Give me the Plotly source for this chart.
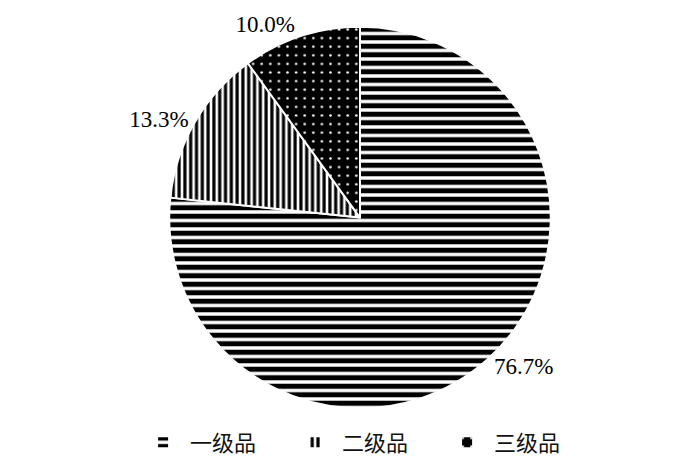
import plotly.graph_objects as go

labels = ["一级品", "二级品", "三级品"]
values = [23, 4, 3]

shapes = ["-", "|", "."]
fg = ["black", "black", "white"]
bg = ["white", "white", "black"]
sizes = [8.5, 5.8, 8.6]
solid = [0.6, 0.55, 0.07]

W, H = 700, 460
OFF = 8  # page body margin offset
cx, cy, r = 360 - OFF, 212 - OFF, 195

fig = go.Figure(go.Pie(
    labels=labels,
    values=values,
    sort=False,
    direction="clockwise",
    rotation=0,
    textposition="outside",
    texttemplate="%{percent:.1%}",
    textfont=dict(family="Liberation Serif", size=23, color="black"),
    marker=dict(
        colors=bg,
        line=dict(color="white", width=2),
        pattern=dict(shape=shapes, fgcolor=fg, bgcolor=bg, size=sizes, solidity=solid, fillmode="replace"),
    ),
    domain=dict(x=[(cx - r) / W, (cx + r) / W], y=[1 - (cy + r) / H, 1 - (cy - r) / H]),
    showlegend=True,
))

fig.update_layout(
    width=W, height=H,
    margin=dict(l=0, r=0, t=0, b=0),
    paper_bgcolor="white",
    legend=dict(
        orientation="h", x=0.183, xanchor="left", y=0.01, yanchor="bottom",
        font=dict(family="Noto Sans CJK SC", size=22, color="#111111"),
        itemwidth=44,
        entrywidth=93,
    ),
)

fig.write_html("out.html")
